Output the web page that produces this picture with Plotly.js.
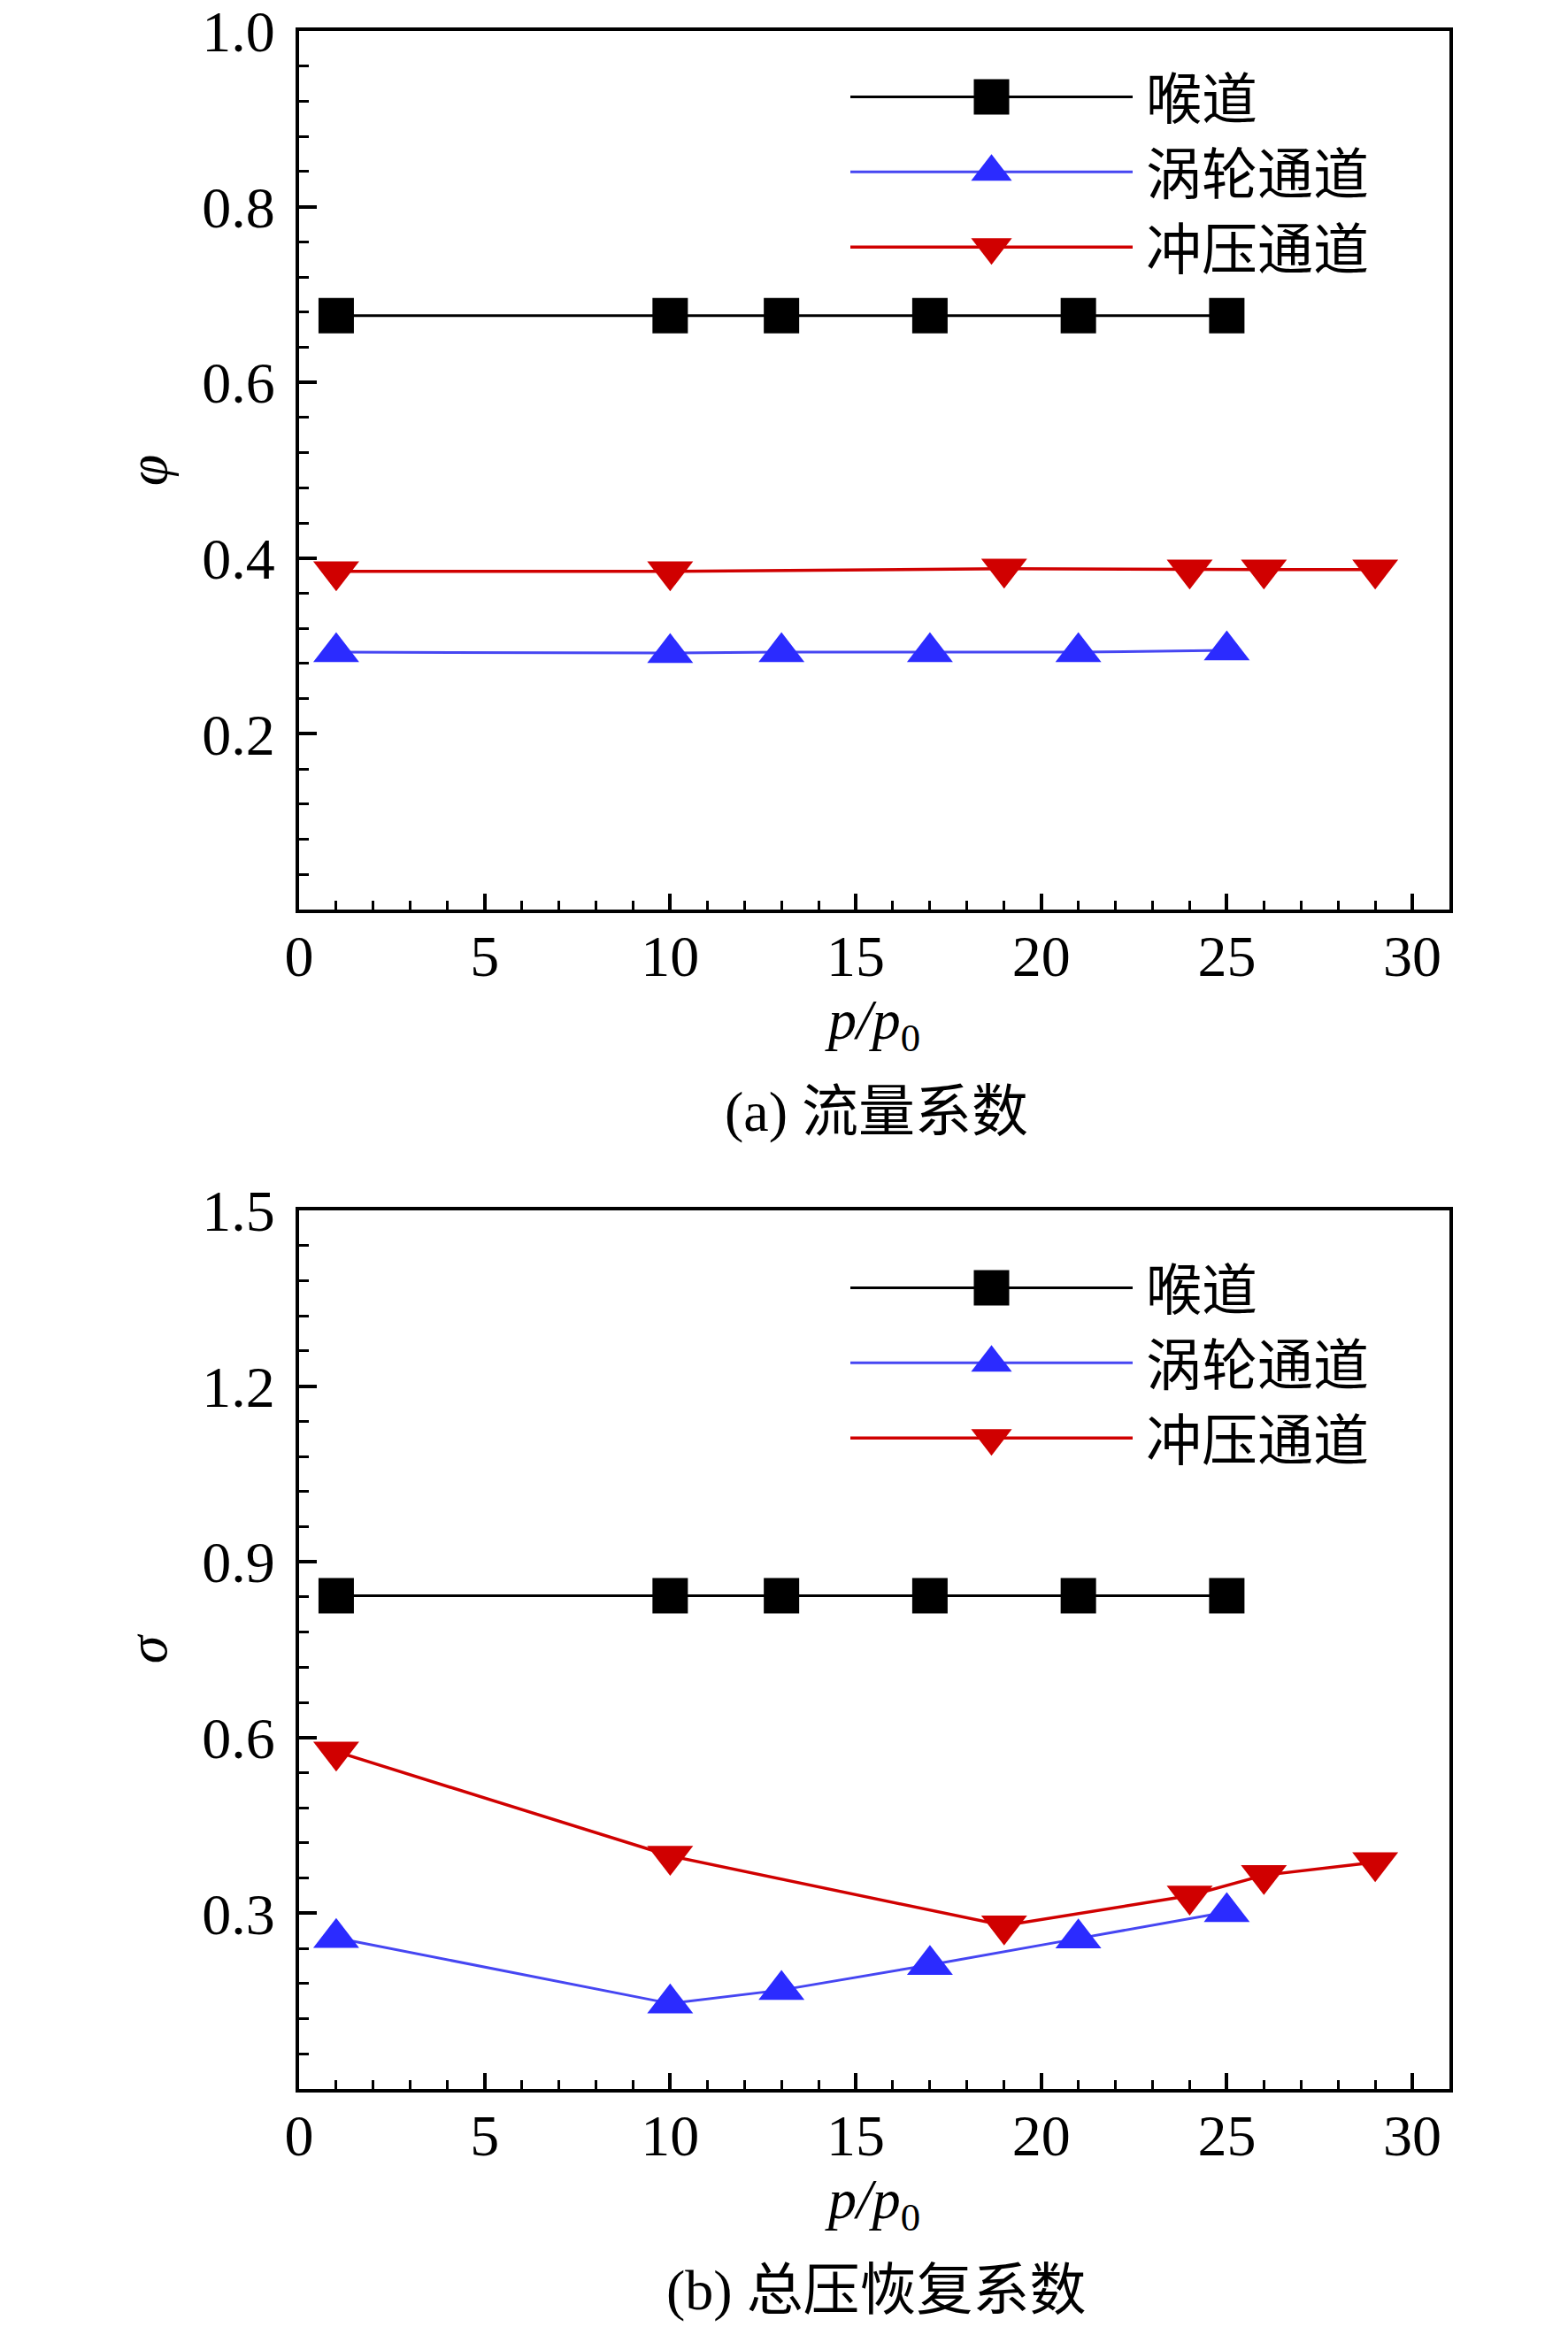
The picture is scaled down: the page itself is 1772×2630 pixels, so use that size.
<!DOCTYPE html>
<html>
<head>
<meta charset="utf-8">
<script src="https://cdn.plot.ly/plotly-3.0.1.min.js"></script>
<style>
  html, body { margin: 0; padding: 0; background: #fff; }
  #chart { width: 1772px; height: 2630px; }
</style>
</head>
<body>
<div id="chart"></div>
<script>
// pressure ratio p/p0 for each passage
var pRatioThroat = [1, 10, 13, 17, 21, 25];
var pRatioTurbine = [1, 10, 13, 17, 21, 25];
var pRatioRam = [1, 10, 19, 24, 26, 29];

// (a) flow coefficient
var phiThroat = [0.676, 0.676, 0.676, 0.676, 0.676, 0.676];
var phiTurbine = [0.293, 0.292, 0.293, 0.293, 0.293, 0.295];
var phiRam = [0.385, 0.385, 0.388, 0.387, 0.387, 0.387];

// (b) total pressure recovery
var sigmaThroat = [0.842, 0.842, 0.842, 0.842, 0.842, 0.842];
var sigmaTurbine = [0.258, 0.146, 0.169, 0.212, 0.257, 0.302];
var sigmaRam = [0.576, 0.398, 0.279, 0.330, 0.365, 0.387];

var seriesNames = ["喉道", "涡轮通道", "冲压通道"];
var phiTicks = [0.2, 0.4, 0.6, 0.8, 1.0];
var sigmaTicks = [0.3, 0.6, 0.9, 1.2, 1.5];
var captions = ["(a) 流量系数", "(b) 总压恢复系数"];

var SERIF = "Liberation Serif, Times New Roman, serif";
var MIXED = "Liberation Serif, Noto Sans CJK SC, serif";
var LEGEND_W = 329;

var styles = [
  { line: { color: "#000000", width: 3 }, marker: { symbol: "square", size: 40, color: "#000000" } },
  { line: { color: "#4646f2", width: 3 }, marker: { symbol: "triangle-up", size: 45, color: "#2b2bff" } },
  { line: { color: "#d00000", width: 3.5 }, marker: { symbol: "triangle-down", size: 45, color: "#d00000" } }
];

function makeTrace(x, y, i, axis, legend) {
  return {
    type: "scatter",
    mode: "lines+markers",
    name: seriesNames[i],
    x: x,
    y: y,
    xaxis: "x" + axis,
    yaxis: "y" + axis,
    legend: legend,
    line: styles[i].line,
    marker: { symbol: styles[i].marker.symbol, size: styles[i].marker.size, color: styles[i].marker.color, line: { width: 0 } }
  };
}

var traces = [
  makeTrace(pRatioThroat, phiThroat, 0, "", "legend"),
  makeTrace(pRatioTurbine, phiTurbine, 1, "", "legend"),
  makeTrace(pRatioRam, phiRam, 2, "", "legend"),
  makeTrace(pRatioThroat, sigmaThroat, 0, "2", "legend2"),
  makeTrace(pRatioTurbine, sigmaTurbine, 1, "2", "legend2"),
  makeTrace(pRatioRam, sigmaRam, 2, "2", "legend2")
];

function xAxis(anchor) {
  return {
    domain: [338 / 1772, 1638 / 1772],
    anchor: anchor,
    range: [0, 31],
    dtick: 5,
    tick0: 0,
    ticks: "inside",
    ticklen: 18,
    tickwidth: 4,
    tickcolor: "#000",
    minor: { ticks: "inside", dtick: 1, tick0: 0, ticklen: 10, tickwidth: 3, tickcolor: "#000" },
    showline: true,
    linewidth: 4,
    linecolor: "#000",
    mirror: true,
    showgrid: false,
    zeroline: false,
    tickfont: { family: SERIF, size: 66, color: "#000" },
    ticklabelstandoff: -8,
    ticklabeloverflow: "allow",
    title: { text: "<i>p/p</i><sub>0</sub>", font: { family: SERIF, size: 64, color: "#000" }, standoff: 8 }
  };
}

function yAxis(domain, anchor, range, tickvals, minorStep, symbol) {
  return {
    domain: domain,
    anchor: anchor,
    range: range,
    tickmode: "array",
    tickvals: tickvals,
    ticktext: tickvals.map(function(v) { return v.toFixed(1); }),
    ticks: "inside",
    ticklen: 20,
    tickwidth: 4,
    tickcolor: "#000",
    minor: { ticks: "inside", dtick: minorStep, tick0: 0, ticklen: 11, tickwidth: 3, tickcolor: "#000" },
    showline: true,
    linewidth: 4,
    linecolor: "#000",
    mirror: true,
    showgrid: false,
    zeroline: false,
    tickfont: { family: SERIF, size: 66, color: "#000" },
    ticklabelstandoff: 10,
    ticklabeloverflow: "allow",
    title: { text: "<i>" + symbol + "</i>", font: { family: SERIF, size: 64, color: "#000" }, standoff: 20 }
  };
}

var legendBase = {
  xanchor: "left",
  yanchor: "top",
  bgcolor: "rgba(0,0,0,0)",
  borderwidth: 0,
  itemwidth: LEGEND_W,
  tracegroupgap: 0,
  font: { family: MIXED, size: 63, color: "#000" }
};

var layout = {
  width: 1772,
  height: 2630,
  margin: { l: 0, r: 0, t: 0, b: 0 },
  paper_bgcolor: "#fff",
  plot_bgcolor: "#fff",
  showlegend: true,
  xaxis: xAxis("y"),
  yaxis: yAxis([1 - 1028 / 2630, 1 - 35 / 2630], "x", [0, 1.0], phiTicks, 0.04, "φ"),
  xaxis2: xAxis("y2"),
  yaxis2: yAxis([1 - 2361 / 2630, 1 - 1368 / 2630], "x2", [0, 1.5], sigmaTicks, 0.06, "σ"),
  legend: Object.assign({}, legendBase, { x: 956 / 1772, y: 1 - 62 / 2630 }),
  legend2: Object.assign({}, legendBase, { x: 956 / 1772, y: 1 - 1408 / 2630 }),
  annotations: [
    { text: captions[0], xref: "paper", yref: "paper", x: 990 / 1772, y: 1 - 1256 / 2630, xanchor: "center", yanchor: "middle", showarrow: false, font: { family: MIXED, size: 64, color: "#000" } },
    { text: captions[1], xref: "paper", yref: "paper", x: 990 / 1772, y: 1 - 2588 / 2630, xanchor: "center", yanchor: "middle", showarrow: false, font: { family: MIXED, size: 64, color: "#000" } }
  ]
};

// legend samples in the figure are long lines with the marker in the middle
function stretchLegendSymbols(gd) {
  gd.querySelectorAll("g.legend .traces, g.legend2 .traces").forEach(function(tr) {
    var ln = tr.querySelector(".legendlines path");
    if (ln) ln.setAttribute("d", "M5,0h" + (LEGEND_W - 10));
    tr.querySelectorAll(".legendpoints path").forEach(function(p) {
      p.setAttribute("transform", "translate(" + (LEGEND_W / 2) + ",0) scale(2.5)");
    });
  });
}

Plotly.newPlot("chart", traces, layout, { staticPlot: true, displayModeBar: false }).then(function(gd) {
  stretchLegendSymbols(gd);
});
</script>
</body>
</html>
